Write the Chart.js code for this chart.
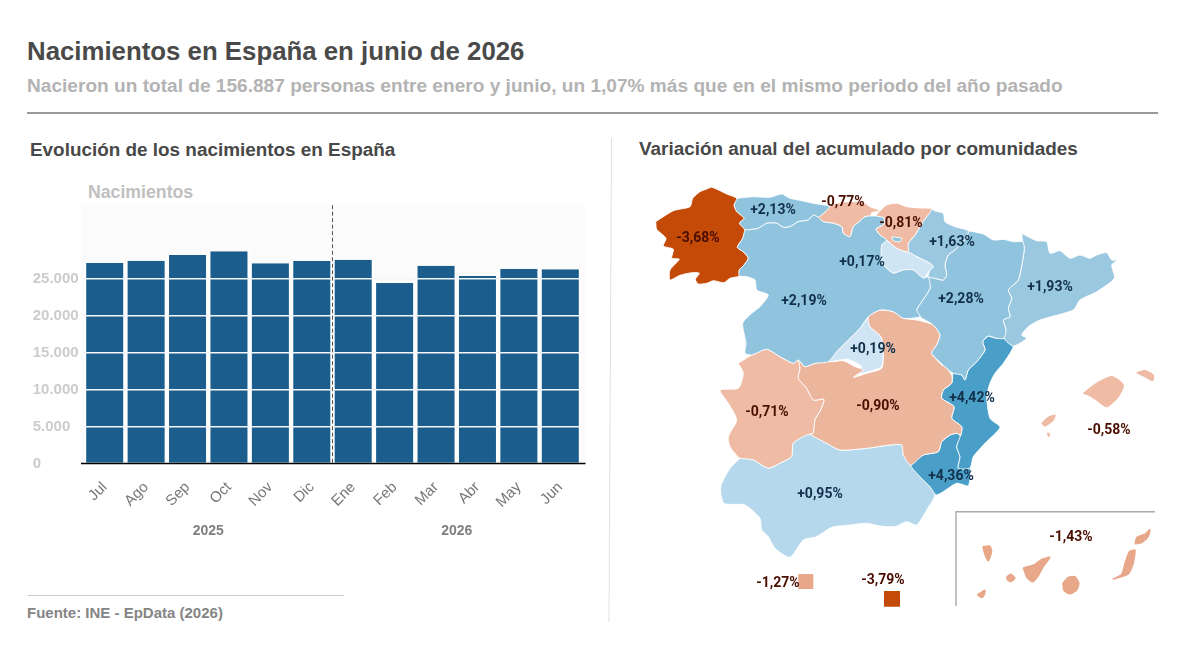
<!DOCTYPE html>
<html lang="es">
<head>
<meta charset="utf-8">
<title>Nacimientos en España</title>
<script src="https://cdn.jsdelivr.net/npm/chart.js@4"></script>
<style>
  html, body { margin: 0; background: #fff; }
  body { position: relative; width: 1200px; height: 647px; overflow: hidden; font-family: "Liberation Sans", Arial, sans-serif; font-weight: bold; }
  .txt { position: absolute; white-space: nowrap; line-height: 1; }
  canvas, svg { position: absolute; }
  #title { left: 27px; top: 39px; font-size: 25.8px; color: #4a4a4a; }
  #subtitle { left: 27px; top: 76px; font-size: 19.1px; color: #b3b3b3; }
  #barTitle { left: 30px; top: 141px; font-size: 18.9px; color: #484848; }
  #mapTitle { left: 639px; top: 140px; font-size: 18.9px; color: #484848; }
  #yTitle { left: 88px; top: 184px; font-size: 17.7px; color: #c0c0c0; }
  #source { left: 27px; top: 604.5px; font-size: 15px; color: #858585; }
</style>
</head>
<body>
<svg width="1200" height="647">
  <line x1="27" y1="113" x2="1158" y2="113" stroke="#777" stroke-width="1.3"/>
  <line x1="611.5" y1="138" x2="609" y2="622" stroke="#e0e0e0" stroke-width="1"/>
  <line x1="28" y1="595.5" x2="344" y2="595.5" stroke="#ccc" stroke-width="1"/>
</svg>
<div class="txt" id="title">Nacimientos en España en junio de 2026</div>
<div class="txt" id="subtitle">Nacieron un total de 156.887 personas entre enero y junio, un 1,07% más que en el mismo periodo del año pasado</div>
<div class="txt" id="barTitle">Evolución de los nacimientos en España</div>
<div class="txt" id="mapTitle">Variación anual del acumulado por comunidades</div>
<div class="txt" id="yTitle">Nacimientos</div>
<div class="txt" id="source">Fuente: INE - EpData (2026)</div>
<canvas id="bars" width="612" height="647" style="left:0;top:0"></canvas>
<canvas id="map" width="588" height="477" style="left:612px;top:170px"></canvas>
<script>
// bar chart
const months = ['Jul', 'Ago', 'Sep', 'Oct', 'Nov', 'Dic', 'Ene', 'Feb', 'Mar', 'Abr', 'May', 'Jun'];
const births = [27170, 27480, 28250, 28750, 27130, 27440, 27600, 24450, 26790, 25390, 26340, 26317];
const yearLabels = ['2025', '2026'];
const yearCenters = [2.5, 8.5];   // in category units

// map outlines, in map units
const galicia = [[655.7,221.7],[673.3,210.7],[690,206.7],[692.7,198.3],[700,191.7],[706,189.3],[711.7,187.3],[720,190.7],[726.7,194],[736.7,198.3],[734,205],[736.7,211.7],[744,218.3],[739.3,223.3],[745,230],[742.7,238.3],[737.3,247.3],[743.3,251.7],[748.3,258.3],[744,265],[739.3,270],[739.3,276],[730,278.3],[724,282.7],[713.3,280.7],[706.7,283.3],[698.3,284],[695.3,279.3],[699.3,273.3],[691.7,272.7],[680,275.3],[670,280],[670,270],[679.3,259.3],[671.7,258.3],[673.3,249.3],[663.3,246],[666,238.3],[656.7,229.3]];
const asturias = [[736.7,198.3],[753.3,196.7],[770,197.3],[781.7,194],[790,198.3],[801.7,200.7],[813.3,203.3],[829.3,206.7],[818.3,217.3],[813.3,215],[808.3,220],[798.3,221.7],[790,226.7],[783.3,227.3],[776.7,223.3],[766.7,223.3],[758.3,228.3],[748.3,230],[745,230],[739.3,223.3],[744,218.3],[736.7,211.7],[734,205]];
const cantabria = [[829.3,206.7],[836.7,203.3],[850,201.7],[863.3,202.3],[870,206.7],[880,210.7],[871.7,212.7],[870.7,216],[865,216.7],[857.3,223.3],[853.3,226.7],[850,236.7],[843.3,233.3],[841.7,226.7],[833.3,223.3],[823.3,221.7],[818.3,217.3]];
const paisVasco = [[880,210.7],[886.7,205],[896.7,203.3],[906.7,206.7],[920,208],[931.7,209],[923,221.7],[915,235],[908.3,243.3],[908.3,251.7],[906,251.7],[896.7,248.3],[886.7,240],[880,235],[876,229],[884,224],[884,218],[876,216]];
const rioja = [[886.7,240],[896.7,248.3],[906,251.7],[908.3,251.7],[916.7,256.7],[930,263.3],[933.3,266.7],[930,270],[923.3,278.3],[913.3,270],[903.3,270],[893.3,273.3],[886.7,268.3],[881.7,262],[881.7,245]];
const navarra = [[931.7,209],[935,211],[943.3,213.3],[945,221.7],[955,226.7],[968.3,230.7],[966,238.3],[961.7,243.3],[955,250],[948.3,255],[945,265],[946.7,275],[943.3,280],[935,278.3],[928.3,276.7],[930,270],[933.3,266.7],[930,263.3],[916.7,256.7],[908.3,251.7],[908.3,243.3],[915,235],[923,221.7]];
const aragon = [[968.3,230.7],[983.3,234],[993.3,240],[1003.3,239.3],[1013.3,241.7],[1022.7,241.7],[1024.3,248.3],[1022.7,260],[1018.3,280],[1008.3,290],[1011.7,298.3],[1008.3,308.3],[1010,316.7],[1003.3,320],[1006,330],[1004,338.3],[996.7,338.3],[988.3,336],[982.7,341.7],[985,350],[976.7,361.7],[968.3,370],[965,380],[961.7,375],[953.3,373.3],[945,366.7],[931.7,353.3],[936.7,345],[940,335],[933.3,325],[920,316.7],[916.7,310],[921.7,301.7],[930,288.3],[928.3,276.7],[935,278.3],[943.3,280],[946.7,275],[945,265],[948.3,255],[955,250],[961.7,243.3],[966,238.3]];
const cataluna = [[1021.7,233.3],[1026.7,236],[1036.7,240.7],[1046.7,241.7],[1050,253.3],[1060,250.7],[1070,258.3],[1080,255],[1090,258.3],[1096.7,255],[1106.7,252.7],[1111.7,260],[1117.3,260],[1111.7,265],[1114.3,278.3],[1096.7,291.7],[1080,300],[1073.3,310],[1040,320],[1028.3,326.7],[1021.7,335],[1026.7,338.3],[1013.3,346],[1004,338.3],[1006,330],[1003.3,320],[1010,316.7],[1008.3,308.3],[1011.7,298.3],[1008.3,290],[1018.3,280],[1022.7,260],[1024.3,248.3],[1022.7,241.7]];
const valencia = [[988.3,336],[996.7,338.3],[1004,338.3],[1013.3,346],[1003.3,363.3],[995,373.3],[990,383.3],[986.7,396.7],[990,418.3],[1000,427.3],[985,443.3],[973.3,456.7],[970,468],[958.3,468.3],[960,456.7],[956.7,446.7],[960.7,435],[961.7,426.7],[951.7,418.3],[954,406.7],[941.7,398.3],[943.3,390],[951.7,383.3],[953.3,373.3],[961.7,375],[965,380],[968.3,370],[976.7,361.7],[985,350],[982.7,341.7]];
const ademuz = [[943.3,366.7],[955,369.3],[957,372],[948.3,372.3]];
const murcia = [[950,435],[956.7,433.3],[960.7,436.7],[956.7,446.7],[960,456.7],[958.3,468.3],[970,468],[968.3,485.7],[956.7,483.3],[936.7,495],[930,486.7],[920,476.7],[910.7,465],[923.3,455],[938.3,451.7],[941.7,441.7]];
const andalucia = [[740,458.3],[730,468.3],[720.7,486.7],[724,503.3],[745,505],[760,518.3],[761.7,530],[768.3,536.7],[775,548.3],[790,557.3],[803.3,540],[816.7,536.7],[831.7,527.3],[850,525],[866.7,523.3],[880,526],[895,526.7],[906.7,521.7],[916.7,525],[926.7,510],[935,495],[930,486.7],[920,476.7],[910.7,465],[903.3,455],[901.7,445],[890,445],[866.7,448.3],[840,450],[826.7,443.3],[810,434.3],[793.3,443.3],[791.7,456.7],[780,463.3],[768.3,468.3],[753.3,460]];
const extremadura = [[738.3,363.3],[751.7,355],[766.7,349.3],[780,356.7],[793.3,363.3],[798.3,360],[800,368.3],[798.3,378.3],[806.7,388.3],[813.3,400],[824,399.3],[820.7,410],[815,420],[813.3,433.3],[810,434.3],[793.3,443.3],[791.7,456.7],[780,463.3],[768.3,468.3],[753.3,460],[740,458.3],[730,446.7],[728.3,436.7],[736.7,420],[728.3,403.3],[720,390],[738.3,388.3],[743.3,373.3]];
const castillaMancha = [[798.3,360],[805,366.7],[815,363.3],[827.3,361.7],[833.3,361.7],[843.3,360.7],[855,366.7],[863.3,370],[853.3,377.3],[866.7,373.3],[881.7,368.3],[883.3,353.3],[881,336.7],[870,326.7],[868.3,316.7],[880,310],[893.3,311.7],[903.3,318.3],[916.7,320],[933.3,325],[940,335],[936.7,345],[931.7,353.3],[941.7,365],[945,366.7],[951.7,375],[951.7,383.3],[943.3,390],[941.7,398.3],[954,406.7],[951.7,418.3],[961.7,426.7],[960.7,435],[956.7,433.3],[950,435],[941.7,441.7],[938.3,451.7],[923.3,455],[910.7,465],[903.3,455],[901.7,445],[890,445],[866.7,448.3],[840,450],[826.7,443.3],[810,434.3],[813.3,433.3],[815,420],[820.7,410],[824,399.3],[813.3,400],[806.7,388.3],[798.3,378.3],[800,368.3]];
const madrid = [[868.3,316.7],[860,328.3],[848.3,340],[836.7,351.7],[828.3,361.7],[840,360],[848.3,359.3],[861.7,366.7],[853.3,375],[868.3,371.7],[881.7,366.7],[883.3,353.3],[881,336.7],[870,326.7]];
const castillaLeon = [[748.3,230],[758.3,228.3],[766.7,223.3],[776.7,223.3],[783.3,227.3],[790,226.7],[798.3,221.7],[808.3,220],[813.3,215],[818.3,217.3],[823.3,221.7],[833.3,223.3],[841.7,226.7],[843.3,233.3],[850,236.7],[853.3,226.7],[857.3,223.3],[865,216.7],[870.7,216],[876,216],[884,218],[884,224],[876,229],[880,235],[886.7,240],[881.7,245],[881.7,262],[886.7,268.3],[893.3,273.3],[903.3,270],[913.3,270],[923.3,278.3],[928.3,276.7],[930,288.3],[921.7,301.7],[916.7,310],[920,316.7],[903.3,318.3],[893.3,311.7],[880,310],[868.3,316.7],[860,328.3],[848.3,340],[836.7,351.7],[828.3,361.7],[815,363.3],[805,366.7],[798.3,360],[793.3,363.3],[780,356.7],[766.7,349.3],[751.7,355],[745,353.3],[746,343.3],[742.7,323.3],[751.7,313.3],[760,306.7],[768.3,295],[756.7,290],[755,280],[746.7,276.7],[739.3,276],[739.3,270],[744,265],[748.3,258.3],[743.3,251.7],[737.3,247.3],[742.7,238.3],[745,230]];
const trevino = [[891.7,236.7],[901.7,238.3],[900,241.7],[893.3,240.7]];
const mallorca = [[1083.3,393.3],[1096.7,383.3],[1111.7,376.7],[1123.3,385],[1118.3,396.7],[1106.7,406.7],[1096.7,400],[1088.3,395]];
const menorca = [[1136.7,372.7],[1145,370.7],[1153.3,375],[1152.7,380.7],[1145,376.7]];
const ibiza = [[1041.7,423.3],[1048.3,417.3],[1055,415],[1053.3,420],[1045,426]];
const formentera = [[1047.5,433],[1049.5,434],[1048.5,436.5]];
const laPalma = [[982.7,546.7],[990,546],[991.7,551.7],[988.3,561],[985,555]];
const gomera = [[1006.7,576.7],[1010.7,574],[1015,578.3],[1010.7,581.7],[1007.3,580]];
const hierro = [[977.3,594.7],[985,590],[984.3,595],[981.7,597.7]];
const tenerife = [[1023.3,567.7],[1033.3,565],[1041.7,559.3],[1050,557.3],[1043.3,566.7],[1037.7,576.7],[1032.7,582],[1026.7,577.3]];
const granCanaria = [[1062.7,583.3],[1068.3,577.3],[1075,576.7],[1079,583.3],[1076.7,590],[1070,594],[1064,590.7]];
const fuerteventura = [[1112.7,579.3],[1121.7,574],[1125,563.3],[1129.3,551.7],[1135,550],[1133.3,563.3],[1128.3,574],[1120,577.3]];
const lanzarote = [[1135,544],[1136.7,537.3],[1145,534],[1150,529.3],[1148.3,536.7],[1141.7,542.7]];
const ceuta = [[798.3,574],[813.3,574],[813.3,589],[798.3,589]];
const melilla = [[884,591],[900,591],[900,606.7],[884,606.7]];
const canaryFrame = [[1155,511.7],[956,511.7],[956,606]];

const regionShapes = [
  [castillaLeon, trevino], [galicia], [asturias], [cantabria], [paisVasco], [rioja], [navarra], [aragon],
  [cataluna], [castillaMancha], [madrid], [valencia, ademuz], [murcia], [andalucia], [extremadura],
  [mallorca, menorca, ibiza, formentera], [laPalma, gomera, hierro, tenerife, granCanaria, fuerteventura, lanzarote],
  [ceuta], [melilla]
];
const regionChanges = [2.19, -3.68, 2.13, -0.77, -0.81, 0.17, 1.63, 2.28, 1.93, -0.90, 0.19, 4.42, 4.36, 0.95, -0.71, -0.58, -1.43, -1.27, -3.79];
const labelX = [804, 698, 773, 843, 901, 862, 952, 961, 1050, 878, 873, 972, 951, 820, 767, 1109, 1071, 778, 883];
const labelY = [300, 237, 209, 201, 222, 261, 241, 298, 286, 405, 348, 397, 475, 493, 411, 429, 536, 582, 579];

function changeColor(v) {
  if (v < -3) return '#c44a08';
  if (v < -1) return '#e7a788';
  if (v < -0.85) return '#ecb69d';
  if (v < 0) return '#efbba4';
  if (v < 0.5) return '#cfe5f3';
  if (v < 1.5) return '#b5d8ec';
  if (v < 2) return '#9bc8e1';
  if (v < 3) return '#8fc3de';
  return '#4a9fc8';
}

function changeText(v) {
  return (v > 0 ? '+' : '') + v.toFixed(2).replace('.', ',') + '%';
}

const barExtras = {
  id: 'barExtras',
  beforeDatasetsDraw(chart) {
    const c = chart.ctx, a = chart.chartArea;
    c.save();
    c.fillStyle = '#fbfbfb';
    c.fillRect(a.left - 2.5, a.top, a.right - a.left + 7, a.bottom - a.top);
    c.restore();
  },
  afterDraw(chart) {
    const c = chart.ctx, a = chart.chartArea, x = chart.scales.x;
    c.save();
    c.strokeStyle = '#000';
    c.lineWidth = 1.6;
    c.beginPath();
    c.moveTo(a.left - 3, a.bottom);
    c.lineTo(a.right + 4.5, a.bottom);
    c.stroke();

    const dx = (x.getPixelForTick(5) + x.getPixelForTick(6)) / 2;
    c.strokeStyle = '#555';
    c.lineWidth = 1;
    c.setLineDash([4, 2.5]);
    c.beginPath();
    c.moveTo(dx, a.top);
    c.lineTo(dx, a.bottom);
    c.stroke();
    c.setLineDash([]);

    c.fillStyle = '#7f7f7f';
    c.font = 'bold 14px "Liberation Sans"';
    c.textAlign = 'center';
    c.textBaseline = 'middle';
    yearLabels.forEach((t, i) => {
      const lo = Math.floor(yearCenters[i]);
      const px = (x.getPixelForTick(lo) + x.getPixelForTick(lo + 1)) / 2;
      c.fillText(t, px, 531);
    });
    c.restore();
  }
};

new Chart(document.getElementById('bars'), {
  type: 'bar',
  data: {
    labels: months,
    datasets: [{
      data: births,
      backgroundColor: '#1b5e8d',
      borderColor: '#fff',
      borderWidth: { top: 0, right: 2.2, bottom: 0, left: 2.2 },
      borderSkipped: false,
      inflateAmount: 0,
      barPercentage: 1,
      categoryPercentage: 1
    }]
  },
  options: {
    responsive: false,
    animation: false,
    layout: { padding: { left: 32.7, right: 31, top: 205.2, bottom: 0 } },
    plugins: { legend: { display: false }, tooltip: { enabled: false } },
    scales: {
      x: {
        grid: { display: false },
        border: { display: false },
        ticks: { color: '#777', font: { family: 'Liberation Sans', size: 15 }, minRotation: 45, maxRotation: 45, padding: 7, autoSkip: false },
        afterFit(s) { s.height = 183.5; }
      },
      y: {
        min: 0,
        max: 35000,
        border: { display: false },
        grid: {
          z: 1,
          drawTicks: false,
          lineWidth: 1.4,
          color: ctx => (ctx.tick.value > 0 && ctx.tick.value <= 25000 ? '#f4f7fa' : 'transparent')
        },
        ticks: {
          stepSize: 5000,
          crossAlign: 'far',
          color: '#cccccc',
          font: { family: 'Liberation Sans', size: 15, weight: 'bold' },
          callback: v => (v > 25000 ? null : String(v).replace(/\B(?=(\d{3})+$)/g, '.'))
        },
        afterFit(s) { s.width = 51.3; }
      }
    }
  },
  plugins: [barExtras]
});

// one dataset per polygon, the labels go on top
const mapDatasets = [];
regionShapes.forEach((shapes, i) => {
  shapes.forEach(poly => {
    const island = shapes.length > 1 && shapes !== regionShapes[0] && shapes !== regionShapes[11];
    const colour = changeColor(poly === trevino ? 2.19 : regionChanges[i]);
    const square = poly === ceuta || poly === melilla;
    mapDatasets.push({
      data: poly.concat([poly[0]]).map(p => ({ x: p[0], y: p[1] })),
      showLine: true,
      fill: 'shape',
      backgroundColor: colour,
      borderColor: island ? colour : '#fff',
      borderWidth: island ? 1.2 : (square ? 0 : 0.9),
      pointRadius: 0,
      tension: square ? 0 : 0.22
    });
  });
});
mapDatasets.push({
  data: canaryFrame.map(p => ({ x: p[0], y: p[1] })),
  showLine: true,
  fill: false,
  borderColor: '#aaa',
  borderWidth: 1.4,
  pointRadius: 0
});

const mapLabels = {
  id: 'mapLabels',
  afterDatasetsDraw(chart) {
    const c = chart.ctx, sx = chart.scales.x, sy = chart.scales.y;
    c.save();
    c.font = '700 14px Roboto';
    c.textAlign = 'center';
    c.textBaseline = 'middle';
    regionChanges.forEach((v, i) => {
      c.fillStyle = v > 0 ? '#12304a' : '#4a0e00';
      c.fillText(changeText(v), sx.getPixelForValue(labelX[i]), sy.getPixelForValue(labelY[i]) + 1);
    });
    c.restore();
  }
};

new Chart(document.getElementById('map'), {
  type: 'scatter',
  data: { datasets: mapDatasets },
  options: {
    responsive: false,
    animation: false,
    layout: { padding: 0 },
    plugins: { legend: { display: false }, tooltip: { enabled: false } },
    scales: {
      x: { type: 'linear', display: false, min: 612, max: 1200 },
      y: { type: 'linear', display: false, min: 170, max: 647, reverse: true }
    }
  },
  plugins: [mapLabels]
});
</script>
</body>
</html>
